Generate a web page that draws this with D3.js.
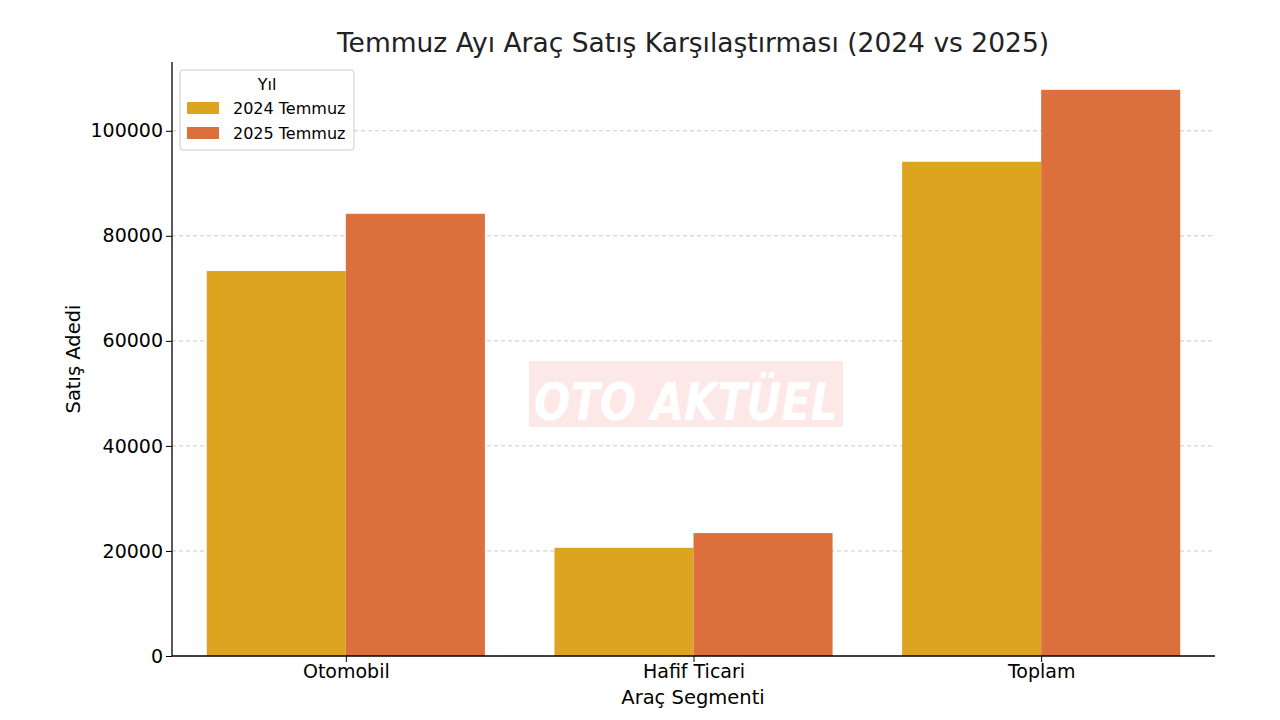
<!DOCTYPE html>
<html><head><meta charset="utf-8">
<script src="https://cdn.jsdelivr.net/npm/d3@7"></script>
<style>body{margin:0;background:#fff}text{font-family:"DejaVu Sans",sans-serif}</style>
</head><body><svg id="c" width="1280" height="720"></svg>
<script>
var categories = ["Otomobil", "Hafif Ticari", "Toplam"]
var seriesNames = ["2024 Temmuz", "2025 Temmuz"]
var values2024 = [73300, 20600, 94100]
var values2025 = [84200, 23400, 107800]
var yTicks = [0, 20000, 40000, 60000, 80000, 100000]
var colors = ["#DDA420", "#DB703D"]

var svg = d3.select("#c")
var mLeft = 172, mRight = 1215, mTop = 62, mBottom = 656

var x = d3.scaleLinear().domain([-0.5, 2.5]).range([mLeft, mRight])
var y = d3.scaleLinear().domain([0, 113100]).range([mBottom, mTop])

// grid
svg.append("g").selectAll("line").data(yTicks.slice(1)).join("line")
  .attr("x1", mLeft).attr("x2", mRight)
  .attr("y1", d => y(d)).attr("y2", d => y(d))
  .attr("stroke", "#c8c8c8").attr("stroke-dasharray", "4,3")

// watermark
svg.append("rect").attr("x", 529).attr("y", 361).attr("width", 314).attr("height", 66).attr("fill", "#fde8e8")
svg.append("text").attr("x", 534).attr("y", 420)
  .attr("font-size", 52).attr("font-weight", "bold").attr("font-style", "italic")
  .attr("textLength", 304).attr("lengthAdjust", "spacingAndGlyphs")
  .attr("fill", "#fff").text("OTO AKTÜEL")

var series = [values2024, values2025]
series.forEach(function(vals, s) {
  svg.append("g").selectAll("rect").data(vals).join("rect")
    .attr("x", (d, i) => x(i - 0.4 + s * 0.4))
    .attr("width", x(0.4) - x(0))
    .attr("y", d => y(d))
    .attr("height", d => mBottom - y(d))
    .attr("fill", colors[s])
})

var ya = svg.append("g").attr("transform", "translate(" + mLeft + ",0)")
  .call(d3.axisLeft(y).tickValues(yTicks).tickFormat(d3.format("d")).tickSizeOuter(0))
var xa = svg.append("g").attr("transform", "translate(0," + mBottom + ")")
  .call(d3.axisBottom(x).tickValues([0, 1, 2]).tickFormat(i => categories[i]).tickSizeOuter(0))
;[ya, xa].forEach(a => {
  a.selectAll("text").attr("font-size", 19).attr("fill", "#000").attr("font-family", "DejaVu Sans")
  a.select(".domain").attr("stroke", "#000").attr("stroke-width", 1.3)
})
ya.select(".domain").attr("d", "M0," + mTop + "V" + mBottom)
xa.select(".domain").attr("d", "M" + mLeft + ",0H" + mRight)

svg.append("text").attr("x", 693).attr("y", 52).attr("text-anchor", "middle")
  .attr("font-size", 26.5).attr("fill", "#222").text("Temmuz Ayı Araç Satış Karşılaştırması (2024 vs 2025)")
svg.append("text").attr("x", 693).attr("y", 704).attr("text-anchor", "middle")
  .attr("font-size", 19.5).text("Araç Segmenti")
svg.append("text").attr("transform", "translate(80,359) rotate(-90)").attr("text-anchor", "middle")
  .attr("font-size", 19.5).text("Satış Adedi")

// legend
var lg = svg.append("g")
lg.append("rect").attr("x", 180).attr("y", 70).attr("width", 174).attr("height", 80).attr("rx", 3)
  .attr("fill", "#fff").attr("fill-opacity", 0.85).attr("stroke", "#ccc")
lg.append("text").attr("x", 267).attr("y", 90).attr("text-anchor", "middle").attr("font-size", 16).text("Yıl")
seriesNames.forEach(function(n, i) {
  lg.append("rect").attr("x", 187).attr("y", 102 + i * 25).attr("width", 32).attr("height", 12).attr("fill", colors[i])
  lg.append("text").attr("x", 233).attr("y", 114 + i * 25).attr("font-size", 16).text(n)
})
</script></body></html>
